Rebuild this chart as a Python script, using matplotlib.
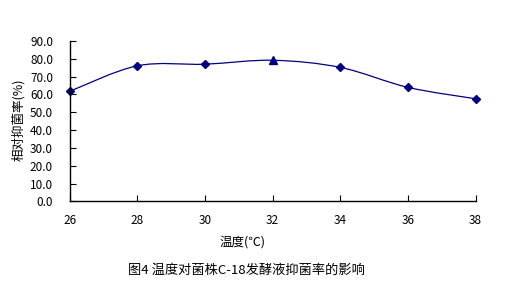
import numpy as np
import matplotlib
matplotlib.use("Agg")
import matplotlib.pyplot as plt
from matplotlib.path import Path
from matplotlib.patches import PathPatch

plt.rcParams['font.family'] = ['Noto Sans CJK SC', 'DejaVu Sans']

temps = [26, 28, 30, 32, 34, 36, 38]
rates = [61.8, 76.1, 77.0, 79.2, 75.2, 64.0, 57.6]
yticks = np.arange(0, 91, 10)
navy = '#000080'

fig = plt.figure(figsize=(5.13, 2.91), dpi=100)
ax = fig.add_axes([0.136, 0.308, 0.791, 0.551])

# smoothed line (bezier through the points, like a spreadsheet "smoothed line")
pts = np.column_stack([temps, rates])
ext = np.vstack([pts[0], pts, pts[-1]])
verts = [tuple(pts[0])]
codes = [Path.MOVETO]
for i in range(1, len(ext) - 2):
    p0, p1, p2, p3 = ext[i - 1], ext[i], ext[i + 1], ext[i + 2]
    c1 = p1 + (p2 - p0) / 6.0
    c2 = p2 - (p3 - p1) / 6.0
    verts += [tuple(c1), tuple(c2), tuple(p2)]
    codes += [Path.CURVE4] * 3
ax.add_patch(PathPatch(Path(verts, codes), facecolor='none', edgecolor=navy,
                       lw=0.9, transform=ax.transData))

mk = ['D'] * len(temps)
mk[3] = '^'
for t, r, m in zip(temps, rates, mk):
    ax.plot(t, r, marker=m, color=navy, ms=4.2 if m == 'D' else 5.5, ls='none',
            clip_on=False)

ax.set_xlim(26, 38)
ax.set_ylim(0, 90)
ax.set_xticks(temps)
ax.set_xticklabels([str(t) for t in temps])
ax.set_yticks(yticks)
ax.set_yticklabels(['%.1f' % v for v in yticks])
for s in ['top', 'right']:
    ax.spines[s].set_visible(False)
for s in ['left', 'bottom']:
    ax.spines[s].set_linewidth(1.0)
ax.tick_params(direction='in', length=4, width=0.8, labelsize=8.5)
ax.tick_params(axis='y', pad=12)
ax.tick_params(axis='x', pad=9)

fig.text(18 / 513, 1 - 120 / 291, '相对抑菌率(%)', rotation=90, ha='center',
         va='center', fontsize=9)
fig.text(243 / 513, 1 - 242 / 291, '温度(℃)', ha='center', va='center', fontsize=9)
fig.text(246 / 513, 1 - 270 / 291, '图4 温度对菌株C-18发酵液抑菌率的影响',
         ha='center', va='center', fontsize=9.5)

fig.savefig('out.png', dpi=100)
